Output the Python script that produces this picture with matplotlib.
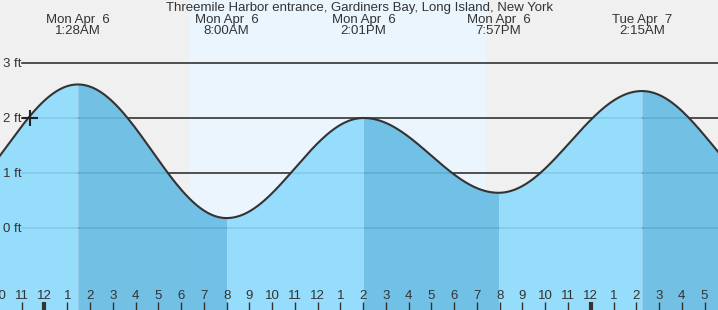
import matplotlib
matplotlib.use("Agg")
import matplotlib.pyplot as plt
import matplotlib.transforms as mtransforms
import numpy as np

plt.rcParams["font.family"] = ["Liberation Sans", "DejaVu Sans"]

# экстремумы прилива (часы от полуночи 6 апреля, высота в футах)
# первая и последняя точки - за краями картинки, оценены по краям кривой
ext_t = [-4.8, 1.467, 8.0, 14.017, 19.95, 26.25, 32.5]
ext_h = [0.35, 2.61, 0.18, 2.0, 0.64, 2.49, 0.50]

# подписи над графиком (только видимые экстремумы)
lab_t = [1.467, 8.0, 14.017, 19.95, 26.25]
lab_day = ["Mon Apr  6", "Mon Apr  6", "Mon Apr  6", "Mon Apr  6", "Tue Apr  7"]
lab_time = ["1:28AM", "8:00AM", "2:01PM", "7:57PM", "2:15AM"]

title = "Threemile Harbor entrance, Gardiners Bay, Long Island, New York"

sunrise, sunset = 6.39, 19.35
now_t, now_h = -0.64, 2.0
ft_levels = [0, 1, 2, 3]

x0, x1 = -1.955, 29.59
y0, y1 = -1.491, 4.145
fs = 9.5

# кривая между экстремумами (косинус)
tt, hh = [], []
for i in range(len(ext_t) - 1):
    ta, tb = ext_t[i], ext_t[i + 1]
    ha, hb = ext_h[i], ext_h[i + 1]
    s = np.linspace(ta, tb, 80)
    tt.extend(s)
    hh.extend(ha + (hb - ha) * (1 - np.cos(np.pi * (s - ta) / (tb - ta))) / 2)
tt = np.array(tt)
hh = np.array(hh)

fig = plt.figure(figsize=(7.18, 3.10), dpi=100)
fig.patch.set_facecolor("#f0f0f0")
ax = fig.add_axes([0, 0, 1, 1])
ax.set_facecolor("#f0f0f0")
ax.set_xlim(x0, x1)
ax.set_ylim(y0, y1)
ax.axis("off")

ax.axvspan(sunrise, sunset, color="#eaf5fe", zorder=0)

# линии уровней
for lv in ft_levels:
    ax.axhline(lv, xmin=22 / 718, xmax=1, color="#333333", lw=1.2, zorder=1)
    ax.text(3 / 718, lv, f"{lv} ft", transform=ax.get_yaxis_transform(),
            ha="left", va="center_baseline", fontsize=fs, color="#333333")

# заливка: прилив светлее, отлив темнее
a = 0.9
for i in range(len(ext_t) - 1):
    m = (tt >= ext_t[i]) & (tt <= ext_t[i + 1])
    col = "#8cdafd" if ext_h[i + 1] > ext_h[i] else "#64bbe3"
    ax.fill_between(tt[m], y0, hh[m], color=col, alpha=a, lw=0, zorder=2)

ax.plot(tt, hh, color="#333333", lw=1.5, zorder=3)
ax.plot([now_t], [now_h], marker="+", ms=11, mew=1.5, color="#222222", zorder=4)

# подписи
ax.text(0.5, 1 - 7.5 / 310, title, transform=ax.transAxes, ha="center",
        va="center", fontsize=fs, color="#333333")
trans = mtransforms.blended_transform_factory(ax.transData, ax.transAxes)
for t, d, s in zip(lab_t, lab_day, lab_time):
    ax.text(t, 1 - 19.5 / 310, d, transform=trans, ha="center", va="center",
            fontsize=fs, color="#333333")
    ax.text(t, 1 - 31.5 / 310, s, transform=trans, ha="center", va="center",
            fontsize=fs, color="#333333")

# часовые метки
for h in range(-2, 30):
    lab = h % 12
    if lab == 0:
        lab = 12
    ax.text(h, 14 / 310, str(lab), transform=trans, ha="center", va="center",
            fontsize=fs, color="#333333")
    lw = 3 if h % 24 == 0 else 1
    ax.plot([h, h], [0, 8 / 310], transform=trans, color="#333333", lw=lw,
            zorder=5, solid_capstyle="butt")

fig.savefig("out.png", dpi=100, facecolor=fig.get_facecolor())
